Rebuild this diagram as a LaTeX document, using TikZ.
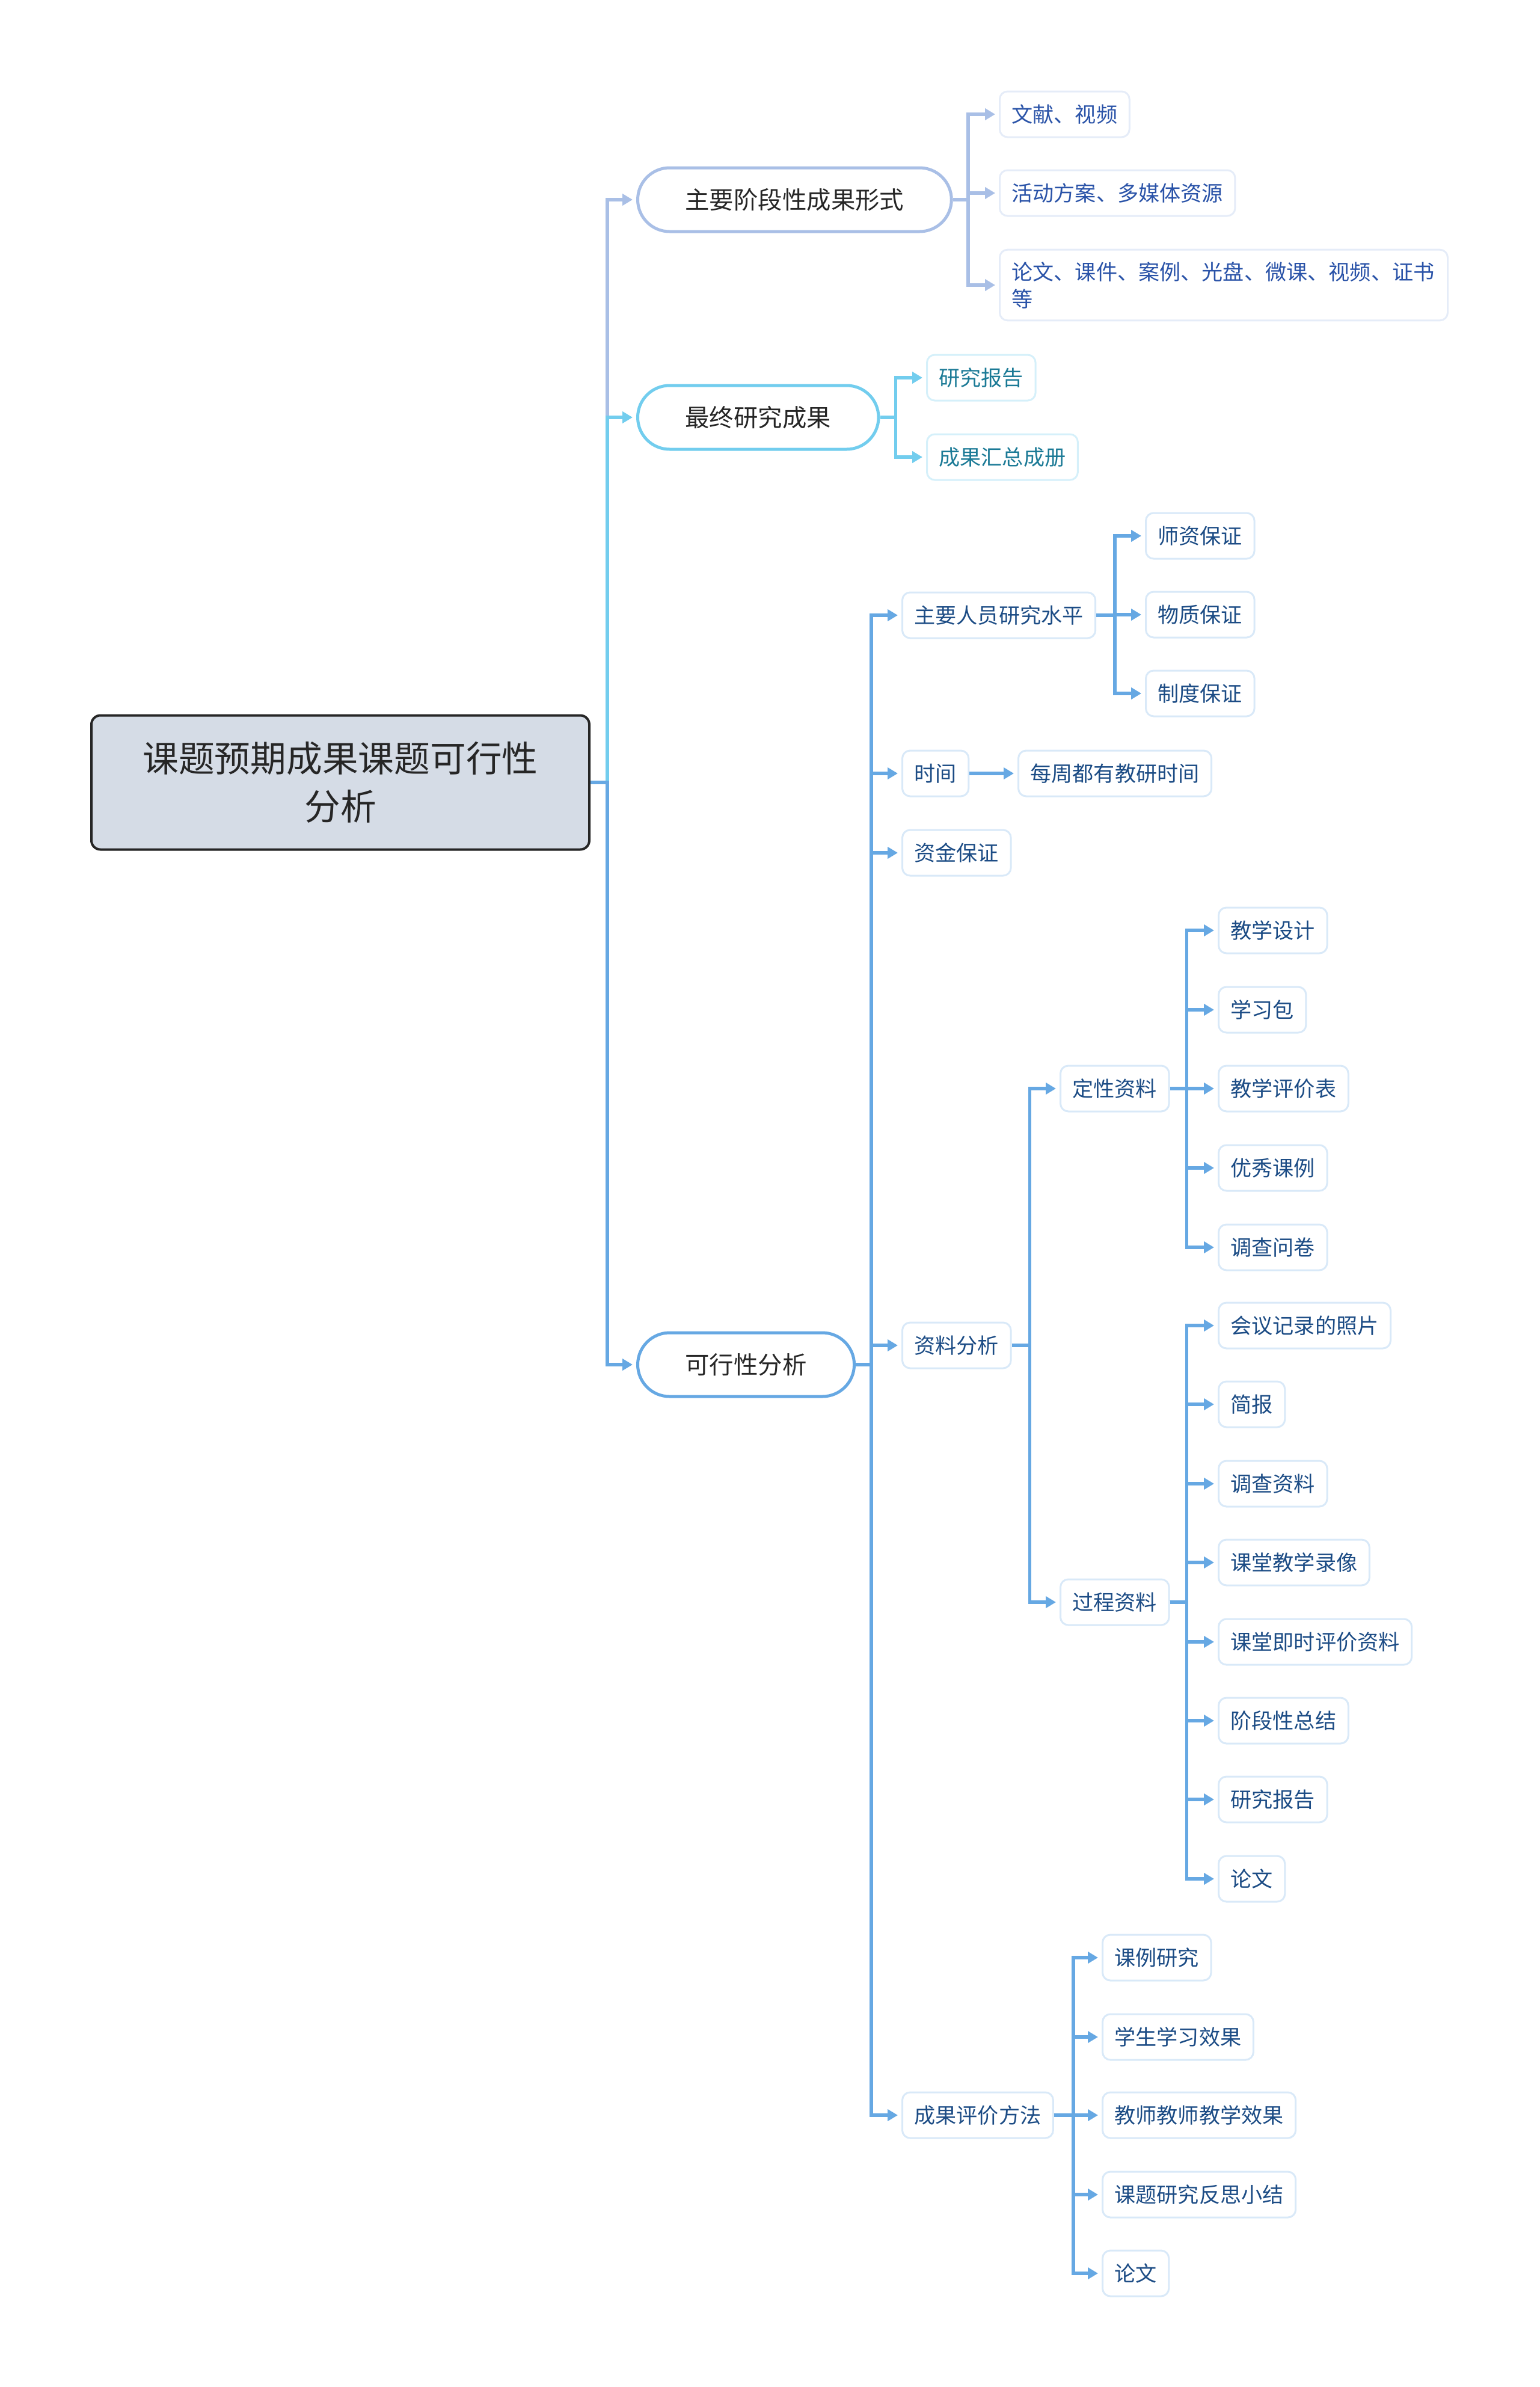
\documentclass[tikz,border=0pt]{standalone}
\usepackage{fontspec}
\setmainfont{Noto Sans CJK SC}
\usepackage{tikz}
\usetikzlibrary{arrows.meta,positioning}
\usepackage{xcolor}
\definecolor{lavline}{HTML}{A9BFE6}
\definecolor{cyanline}{HTML}{72CDEE}
\definecolor{blueline}{HTML}{66A8E3}
\definecolor{lavtext}{HTML}{2A53A8}
\definecolor{cyantext}{HTML}{1B7A96}
\definecolor{bluetext}{HTML}{1C4C85}
\definecolor{rootfill}{HTML}{D5DCE6}

\begin{document}
\begin{tikzpicture}[>={Triangle[length=0.17cm,width=0.19cm]},
  rootbox/.style={draw=black!85, line width=0.04cm, fill=rootfill,
    rounded corners=0.15cm, minimum width=8.28cm, minimum height=2.23cm,
    align=center, font=\fontsize{17}{22.8}\selectfont, text=black!85},
  pill/.style={draw=#1, line width=0.05cm, fill=white, rounded corners=0.53cm,
    minimum height=1.06cm, inner xsep=0.79cm, anchor=west,
    font=\fontsize{11.5}{14}\selectfont, text=black!85},
  leaf/.style={line width=0.03cm, fill=white, rounded corners=0.13cm,
    minimum height=0.76cm, inner xsep=0.2cm, anchor=west,
    font=\fontsize{10}{12.8}\selectfont},
  leafa/.style={leaf, draw=lavline!30, text=lavtext},
  leafb/.style={leaf, draw=cyanline!30, text=cyantext},
  leafc/.style={leaf, draw=blueline!25, text=bluetext},
  link/.style={draw=#1, line width=0.055cm, ->, shorten >=0.06cm}]
  \useasboundingbox (0,0) rectangle (25.6,-39.69);

  %% Root
  \node[rootbox] (root) at (5.66,-13.01) {课题预期成果课题可行性\\分析};

  %% Main branches
  \node[pill=lavline]  (stage) at (10.58,-3.32)  {主要阶段性成果形式};
  \node[pill=cyanline] (final) at (10.58,-6.94)  {最终研究成果};
  \node[pill=blueline] (feas)  at (10.58,-22.69) {可行性分析};
  \draw[link=lavline]  (root.east) -- ++(0.28,0) |- (stage.west);
  \draw[link=cyanline] (root.east) -- ++(0.28,0) |- (final.west);
  \draw[link=blueline] (root.east) -- ++(0.28,0) |- (feas.west);

  %% Stage results
  \node[leafa] (video) at (16.61,-1.90) {文献、视频};
  \node[leafa] (plan)  at (16.61,-3.21) {活动方案、多媒体资源};
  \node[leafa, align=left, text width=7.05cm, inner ysep=0.2cm] (paper)
    at (16.61,-4.74) {论文、课件、案例、光盘、微课、视频、证书\\等};
  \foreach \n in {video,plan,paper}
    \draw[link=lavline] (stage.east) -- ++(0.25,0) |- (\n.west);

  %% Final results
  \node[leafb] (report) at (15.40,-6.28) {研究报告};
  \node[leafb] (book)   at (15.40,-7.60) {成果汇总成册};
  \foreach \n in {report,book}
    \draw[link=cyanline] (final.east) -- ++(0.26,0) |- (\n.west);

  %% Feasibility
  \node[leafc] (staff) at (14.99,-10.23) {主要人员研究水平};
  \node[leafc] (time)  at (14.99,-12.86) {时间};
  \node[leafc] (fund)  at (14.99,-14.18) {资金保证};
  \node[leafc] (data)  at (14.99,-22.37) {资料分析};
  \node[leafc] (eval)  at (14.99,-35.17) {成果评价方法};
  \foreach \n in {staff,time,fund,data,eval}
    \draw[link=blueline] (feas.east) -- ++(0.26,0) |- (\n.west);

  %% Staff level
  \foreach \n/\t/\y in {teach/师资保证/-8.91, equip/物质保证/-10.22, rule/制度保证/-11.53}{
    \node[leafc] (\n) at (19.04,\y) {\t};
    \draw[link=blueline] (staff.east) -- ++(0.31,0) |- (\n.west);
  }

  %% Time
  \node[leafc] (weekly) at (16.92,-12.86) {每周都有教研时间};
  \draw[link=blueline] (time.east) -- (weekly.west);

  %% Data analysis
  \node[leafc] (qual) at (17.62,-18.10) {定性资料};
  \node[leafc] (proc) at (17.62,-26.64) {过程资料};
  \foreach \n in {qual,proc}
    \draw[link=blueline] (data.east) -- ++(0.30,0) |- (\n.west);

  \foreach \n/\t/\y in {qa/教学设计/-15.47, qb/学习包/-16.79, qc/教学评价表/-18.10,
                        qd/优秀课例/-19.42, qe/调查问卷/-20.74}{
    \node[leafc] (\n) at (20.25,\y) {\t};
    \draw[link=blueline] (qual.east) -- ++(0.28,0) |- (\n.west);
  }

  \foreach \n/\t/\y in {pa/会议记录的照片/-22.04, pb/简报/-23.35, pc/调查资料/-24.67,
                        pd/课堂教学录像/-25.98, pe/课堂即时评价资料/-27.30,
                        pf/阶段性总结/-28.61, pg/研究报告/-29.92, ph/论文/-31.24}{
    \node[leafc] (\n) at (20.25,\y) {\t};
    \draw[link=blueline] (proc.east) -- ++(0.28,0) |- (\n.west);
  }

  %% Evaluation
  \foreach \n/\t/\y in {ea/课例研究/-32.55, eb/学生学习效果/-33.87, ec/教师教师教学效果/-35.17,
                        ed/课题研究反思小结/-36.49, ee/论文/-37.80}{
    \node[leafc] (\n) at (18.32,\y) {\t};
    \draw[link=blueline] (eval.east) -- ++(0.32,0) |- (\n.west);
  }
\end{tikzpicture}
\end{document}
